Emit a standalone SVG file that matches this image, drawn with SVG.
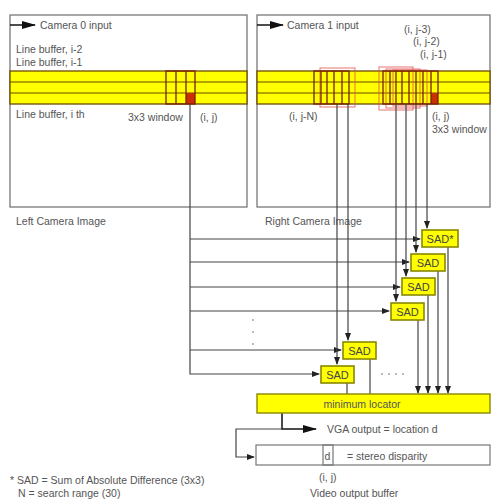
<svg xmlns="http://www.w3.org/2000/svg" width="492" height="500" viewBox="0 0 492 500">
<defs>
<marker id="ah" markerWidth="8" markerHeight="6" refX="7" refY="3" orient="auto" markerUnits="userSpaceOnUse"><path d="M0,0 L8,3 L0,6 z" fill="#222"/></marker>
<marker id="ahb" markerWidth="14" markerHeight="8" refX="13" refY="4" orient="auto" markerUnits="userSpaceOnUse"><path d="M0,0 L14,4 L0,8 z" fill="#111"/></marker>
<style>
text{font-family:"Liberation Sans",Arial,sans-serif;fill:#555;font-size:10.5px}
.frame{fill:none;stroke:#777;stroke-width:1.3}
.band{fill:#ffff00;stroke:#6b4a00;stroke-width:1.3}
.bl{stroke:#6b4a00;stroke-width:1.2}
.win{stroke:#7a2000;stroke-width:1.3;fill:none}
.pink{fill:none;stroke:#e05050;stroke-width:1;opacity:0.8}
.ln{fill:none;stroke:#444;stroke-width:1.2}
.sad rect{fill:#ffff00;stroke:#888800;stroke-width:1.6}
.sad text{fill:#444;font-size:11px;text-anchor:middle}
</style>
</defs>

<g id="left-camera">
<rect class="frame" x="10" y="15" width="237" height="192"/>
<line x1="10" y1="25" x2="35" y2="25" stroke="#111" stroke-width="1.5" marker-end="url(#ahb)"/>
<text x="40" y="29">Camera 0 input</text>
<text x="16" y="53" fill="#445">Line buffer, i-2</text>
<text x="16" y="66" fill="#445">Line buffer, i-1</text>
<rect class="band" x="10" y="71" width="237" height="33"/>
<line class="bl" x1="10" y1="82" x2="247" y2="82"/>
<line class="bl" x1="10" y1="93" x2="247" y2="93"/>
<rect x="186" y="93" width="9" height="11" fill="#c83000"/>
<rect class="win" x="166" y="71" width="29" height="33"/>
<line class="win" x1="176" y1="71" x2="176" y2="104"/>
<line class="win" x1="186" y1="71" x2="186" y2="104"/>
<text x="16" y="118">Line buffer, i th</text>
<text x="128" y="121">3x3 window</text>
<text x="200" y="121">(i, j)</text>
<text x="16" y="225">Left Camera Image</text>
</g>

<g id="right-camera">
<rect class="frame" x="257" y="15" width="233" height="192"/>
<line x1="257" y1="25" x2="283" y2="25" stroke="#111" stroke-width="1.5" marker-end="url(#ahb)"/>
<text x="287" y="29">Camera 1 input</text>
<text x="404" y="33" font-size="9.5">(i, j-3)</text>
<text x="413" y="45" font-size="9.5">(i, j-2)</text>
<text x="420" y="58" font-size="9.5">(i, j-1)</text>
<rect class="band" x="257" y="71" width="233" height="33"/>
<line class="bl" x1="257" y1="82" x2="490" y2="82"/>
<line class="bl" x1="257" y1="93" x2="490" y2="93"/>
<rect class="pink" x="320" y="68" width="35" height="39"/>
<rect class="win" x="314" y="71" width="35" height="33"/>
<line class="win" x1="321" y1="71" x2="321" y2="104"/>
<line class="win" x1="327" y1="71" x2="327" y2="104"/>
<line class="win" x1="334" y1="71" x2="334" y2="104"/>
<line class="win" x1="342" y1="71" x2="342" y2="104"/>
<rect x="431" y="93" width="7" height="11" fill="#c83000"/>
<rect class="pink" x="379" y="67" width="34" height="43"/>
<rect class="pink" x="386" y="69" width="34" height="39"/>
<rect class="pink" x="393" y="70" width="34" height="36"/>
<rect class="win" x="383" y="71" width="55" height="33"/>
<line class="win" x1="390" y1="71" x2="390" y2="104"/>
<line class="win" x1="396" y1="71" x2="396" y2="104"/>
<line class="win" x1="402" y1="71" x2="402" y2="104"/>
<line class="win" x1="409" y1="71" x2="409" y2="104"/>
<line class="win" x1="416" y1="71" x2="416" y2="104"/>
<line class="win" x1="423" y1="71" x2="423" y2="104"/>
<line class="win" x1="431" y1="71" x2="431" y2="104"/>
<text x="289" y="120" font-size="9.5">(i, j-N)</text>
<text x="432" y="120" font-size="9.5">(i, j)</text>
<text x="432" y="133">3x3 window</text>
<text x="265" y="225">Right Camera Image</text>
</g>

<g id="connectors">
<polyline class="ln" points="190,104 190,374 319,374" marker-end="url(#ah)"/>
<line class="ln" x1="190" y1="239" x2="420" y2="239" marker-end="url(#ah)"/>
<line class="ln" x1="190" y1="262" x2="409" y2="262" marker-end="url(#ah)"/>
<line class="ln" x1="190" y1="287" x2="400" y2="287" marker-end="url(#ah)"/>
<line class="ln" x1="190" y1="311" x2="389" y2="311" marker-end="url(#ah)"/>
<line class="ln" x1="190" y1="350" x2="341" y2="350" marker-end="url(#ah)"/>
<line class="ln" x1="337" y1="104" x2="337" y2="364" marker-end="url(#ah)"/>
<line class="ln" x1="348" y1="104" x2="348" y2="340" marker-end="url(#ah)"/>
<line class="ln" x1="396" y1="104" x2="396" y2="301" marker-end="url(#ah)"/>
<line class="ln" x1="406" y1="104" x2="406" y2="276" marker-end="url(#ah)"/>
<line class="ln" x1="416" y1="104" x2="416" y2="252" marker-end="url(#ah)"/>
<line class="ln" x1="427" y1="104" x2="427" y2="228" marker-end="url(#ah)"/>
<line class="ln" x1="448" y1="247" x2="448" y2="393" marker-end="url(#ah)"/>
<line class="ln" x1="438" y1="271" x2="438" y2="393" marker-end="url(#ah)"/>
<line class="ln" x1="428" y1="295" x2="428" y2="393" marker-end="url(#ah)"/>
<line class="ln" x1="418" y1="320" x2="418" y2="393" marker-end="url(#ah)"/>
<line class="ln" x1="370" y1="359" x2="370" y2="394"/>
<line class="ln" x1="347" y1="383" x2="347" y2="394"/>
<polyline fill="none" stroke="#111" stroke-width="1.5" points="282,413 282,429 316,429" marker-end="url(#ahb)"/>
<polyline class="ln" points="282,429 236,429 236,457 254,457" marker-end="url(#ah)"/>
<g fill="#999">
<circle cx="253" cy="320" r="0.9"/><circle cx="253" cy="332" r="0.9"/><circle cx="253" cy="344" r="0.9"/>
<circle cx="382" cy="374" r="0.9"/><circle cx="389" cy="374" r="0.9"/><circle cx="396" cy="374" r="0.9"/><circle cx="403" cy="374" r="0.9"/>
</g>
</g>

<g id="sad1" class="sad"><rect x="422" y="230" width="36" height="17"/><text x="440" y="243">SAD*</text></g>
<g id="sad2" class="sad"><rect x="411" y="254" width="34" height="17"/><text x="428" y="267">SAD</text></g>
<g id="sad3" class="sad"><rect x="402" y="278" width="33" height="17"/><text x="418.5" y="291">SAD</text></g>
<g id="sad4" class="sad"><rect x="391" y="303" width="33" height="17"/><text x="407.5" y="316">SAD</text></g>
<g id="sad5" class="sad"><rect x="343" y="342" width="33" height="17"/><text x="359.5" y="355">SAD</text></g>
<g id="sad6" class="sad"><rect x="321" y="366" width="33" height="17"/><text x="337.5" y="379">SAD</text></g>

<g id="min-locator">
<rect x="257" y="394" width="233" height="19" fill="#ffff00" stroke="#888800" stroke-width="1.4"/>
<text x="362" y="407.5" text-anchor="middle" fill="#444">minimum locator</text>
</g>

<g id="vga-output">
<text x="327" y="433" font-size="12.5px">VGA output = location d</text>
</g>

<g id="video-buffer">
<rect x="256" y="445" width="234" height="20" fill="#fff" stroke="#777" stroke-width="1.2"/>
<rect x="323" y="445" width="10" height="20" fill="none" stroke="#777" stroke-width="1.2"/>
<text x="324.5" y="460">d</text>
<text x="347" y="460">= stereo disparity</text>
<text x="319" y="481" font-size="9.5">(i, j)</text>
<text x="310" y="497">Video output buffer</text>
</g>

<g id="notes">
<text x="10" y="484">* SAD = Sum of Absolute Difference (3x3)</text>
<text x="18" y="497">N = search range (30)</text>
</g>
</svg>
